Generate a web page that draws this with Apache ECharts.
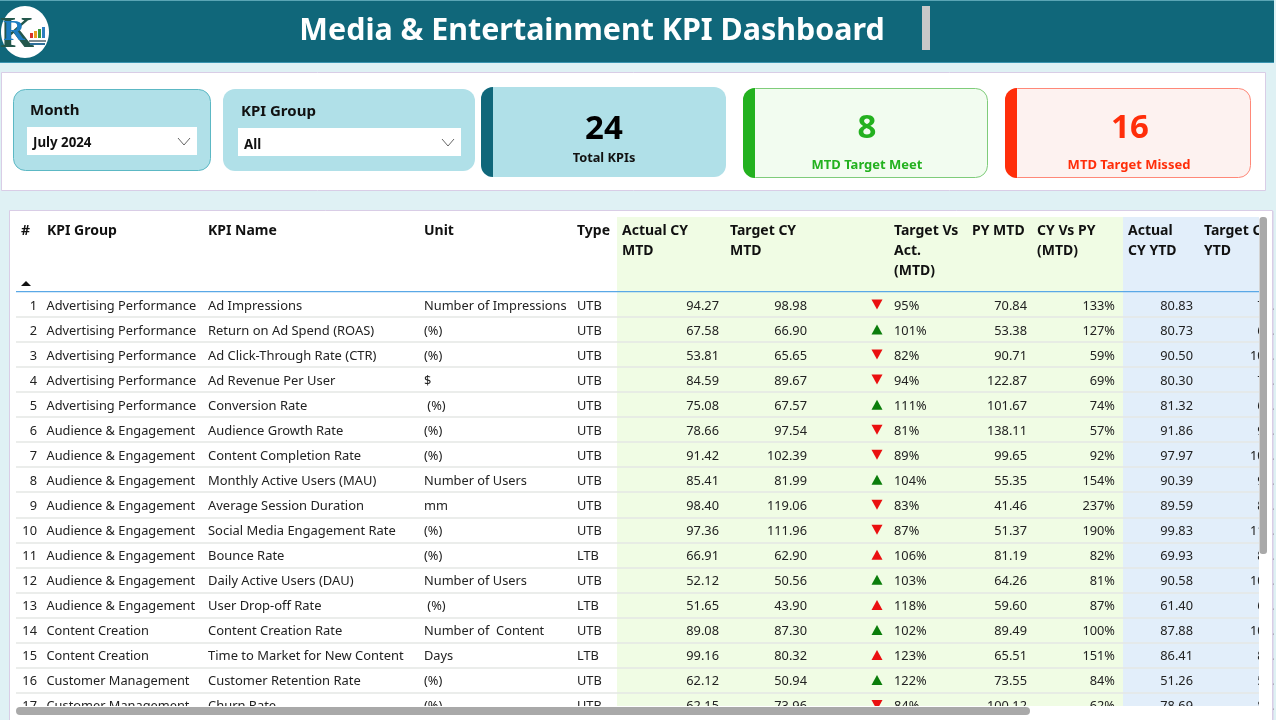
<!DOCTYPE html>
<html><head><meta charset="utf-8">
<style>html,body{margin:0;padding:0;background:#dff1f4}#c{width:1276px;height:720px}</style>
<script src="https://cdn.jsdelivr.net/npm/echarts@6/dist/echarts.min.js"></script>
</head><body><div id="c"></div>
<script>
const kpiGroups=["Advertising Performance","Advertising Performance","Advertising Performance","Advertising Performance","Advertising Performance","Audience & Engagement","Audience & Engagement","Audience & Engagement","Audience & Engagement","Audience & Engagement","Audience & Engagement","Audience & Engagement","Audience & Engagement","Content Creation","Content Creation","Customer Management","Customer Management"];
const kpiNames=["Ad Impressions","Return on Ad Spend (ROAS)","Ad Click-Through Rate (CTR)","Ad Revenue Per User","Conversion Rate","Audience Growth Rate","Content Completion Rate","Monthly Active Users (MAU)","Average Session Duration","Social Media Engagement Rate","Bounce Rate","Daily Active Users (DAU)","User Drop-off Rate","Content Creation Rate","Time to Market for New Content","Customer Retention Rate","Churn Rate"];
const units=["Number of Impressions","(%)","(%)","$"," (%)","(%)","(%)","Number of Users","mm","(%)","(%)","Number of Users"," (%)","Number of  Content","Days","(%)","(%)"];
const types=["UTB","UTB","UTB","UTB","UTB","UTB","UTB","UTB","UTB","UTB","LTB","UTB","LTB","UTB","LTB","UTB","UTB"];
const actualMTD=["94.27","67.58","53.81","84.59","75.08","78.66","91.42","85.41","98.40","97.36","66.91","52.12","51.65","89.08","99.16","62.12","62.15"];
const targetMTD=["98.98","66.90","65.65","89.67","67.57","97.54","102.39","81.99","119.06","111.96","62.90","50.56","43.90","87.30","80.32","50.94","73.96"];
const targetVsAct=["95%","101%","82%","94%","111%","81%","89%","104%","83%","87%","106%","103%","118%","102%","123%","122%","84%"];
const pyMTD=["70.84","53.38","90.71","122.87","101.67","138.11","99.65","55.35","41.46","51.37","81.19","64.26","59.60","89.49","65.51","73.55","100.12"];
const cyVsPy=["133%","127%","59%","69%","74%","57%","92%","154%","237%","190%","82%","81%","87%","100%","151%","84%","62%"];
const actualYTD=["80.83","80.73","90.50","80.30","81.32","91.86","97.97","90.39","89.59","99.83","69.93","90.58","61.40","87.88","86.41","51.26","78.69"];
const targetYTD=["75.40","68.20","104.10","74.60","66.30","93.50","101.20","92.10","85.70","110.40","82.60","108.30","64.80","101.50","83.90","58.20","86.10"];
const rowNumbers=kpiNames.map((_,i)=>String(i+1));

const headers=[["#",21],["KPI Group",47],["KPI Name",208],["Unit",424],["Type",577],
 ["Actual CY\nMTD",622],["Target CY\nMTD",730],["Target Vs\nAct.\n(MTD)",894],["PY MTD",972],["CY Vs PY\n(MTD)",1037],["Actual\nCY YTD",1128],["Target CY\nYTD",1204]];

const FONT='"Noto Sans","Open Sans",sans-serif';
const TXT='#222222';
const columns=[
 {v:rowNumbers,x:37,a:'right'},{v:kpiGroups,x:46.5,a:'left'},{v:kpiNames,x:208,a:'left',s:12.95},{v:units,x:424,a:'left'},{v:types,x:577,a:'left'},
 {v:actualMTD,x:719,a:'right'},{v:targetMTD,x:807,a:'right'},{v:targetVsAct,x:894,a:'left'},{v:pyMTD,x:1027,a:'right'},{v:cyVsPy,x:1115,a:'right'},{v:actualYTD,x:1193,a:'right'},{v:targetYTD,x:1290,a:'right'}];
const ROW_H=25.03, TOP=292;

function textSeries(col){
 return {type:'custom',coordinateSystem:'cartesian2d',clip:false,silent:true,z:5,
  data:col.v.map((t,i)=>[col.x,i,t]),
  renderItem(p,api){
   const c=api.coord([api.value(0),api.value(1)]);
   return {type:'text',style:{x:c[0],y:c[1]+1.5,text:col.v[p.dataIndex],textAlign:col.a,textVerticalAlign:'middle',font:(col.s||12.8)+'px '+FONT,fill:TXT}};
  }};
}
const triangles={type:'scatter',z:5,silent:true,clip:false,
 data:actualMTD.map((a,i)=>{
  const up=+a>=+targetMTD[i], good=types[i]==='UTB'?up:!up;
  return {value:[877,i],symbol:'triangle',symbolRotate:up?0:180,symbolSize:[11,10],itemStyle:{color:good?'#0b7d0b':'#ea1010',opacity:1}};
 })};

const g=[];
const rect=(x,y,w,h,fill,extra={})=>g.push({type:'rect',shape:{x,y,width:w,height:h,r:extra.r||0},style:{fill,stroke:extra.stroke||null,lineWidth:extra.lw||0},z:extra.z??-10,silent:true});
const text=(t,x,y,size,color,align='left',weight='bold',z=-5)=>g.push({type:'text',z,silent:true,style:{x,y,text:t,font:`${weight} ${size}px ${FONT}`,fill:color,textAlign:align,textVerticalAlign:'middle'}});
const chevron=(x,y)=>g.push({type:'polyline',z:-5,silent:true,shape:{points:[[x-6,y-4],[x,y+3],[x+6,y-4]]},style:{fill:null,stroke:'#666',lineWidth:1}});

// header
rect(0,0,1274,63,'#10677a');
rect(0,0,1274,1,'#5aa5b5',{z:-9});
rect(0,62,1274,1,'#3a94b0',{z:-9});
text('Media & Entertainment KPI Dashboard',592,31,30.4,'#ffffff','center');
rect(922,6,8,44,'#c8c8c8');
// logo
g.push({type:'ellipse',z:-8,silent:true,shape:{cx:25,cy:32,rx:24,ry:26},style:{fill:'#ffffff'}});
g.push({type:'text',z:-6,silent:true,style:{x:17,y:36,text:'K',font:'bold 44px "Liberation Serif",serif',fill:'#23574c',textAlign:'center',textVerticalAlign:'middle'}});
g.push({type:'text',z:-6,silent:true,style:{x:14,y:32,text:'R',font:'bold 30px "Liberation Serif",serif',fill:'#1c7cc0',textAlign:'center',textVerticalAlign:'middle'}});
[[30,33,3,5,'#d8342a'],[34,31,3,7,'#e8a020'],[38,29,3,9,'#3a9a3a'],[42,27,3,11,'#2e7fc0']].forEach(b=>rect(b[0],b[1],b[2],b[3],b[4],{z:-6}));
rect(29,40,17,2,'#7a8a90',{z:-6});
rect(30,43,15,2,'#2e6f9a',{z:-6});
// filter panel
rect(1.5,72.5,1264,118,'#ffffff',{stroke:'#d9cde6',lw:1});
rect(13.5,89.5,197,81,'#b0e0e8',{r:12,stroke:'#5cb8c4',lw:1,z:-9});
text('Month',30,111,15,'#111');
rect(27,127,170,28,'#ffffff',{z:-8});
text('July 2024',33,143,13.3,'#111');
chevron(184,142);
rect(223,89,252,82,'#b0e0e8',{r:12,z:-9});
text('KPI Group',241,112,15,'#111');
rect(238,128,223,28,'#ffffff',{z:-8});
text('All',244,145,13.3,'#111');
chevron(448,143);
// KPI cards
rect(481,87,245,90,'#b0e0e8',{r:12,z:-9});
rect(481,87,12,90,'#10677a',{r:[12,0,0,12],z:-8});
text('24',604,130,33,'#000','center');
text('Total KPIs',604,158,12.8,'#111','center');
rect(743.5,88.5,244,89,'#f2fcf0',{r:12,stroke:'#7fcc7a',lw:1,z:-9});
rect(743,88,12,90,'#23b11f',{r:[12,0,0,12],z:-8});
text('8',867,129,33,'#23b11f','center');
text('MTD Target Meet',867,165,13,'#23b11f','center');
rect(1005.5,88.5,245,89,'#fdf2f0',{r:12,stroke:'#ff8878',lw:1,z:-9});
rect(1005,88,12,90,'#ff2e0a',{r:[12,0,0,12],z:-8});
text('16',1130,129,33,'#ff2e0a','center');
text('MTD Target Missed',1129,165,13,'#ff2e0a','center');
// table panel
rect(9.5,210.5,1263,512,'#ffffff',{stroke:'#d9cde6',lw:1,z:-12});
rect(617,217,506,489,'#f0fce4',{z:-10});
rect(1123,217,136,489,'#e2eefa',{z:-10});
headers.forEach(h=>h[0].split('\n').forEach((l,i)=>text(l,h[1],231+i*20,14,'#111','left','bold',-4)));
g.push({type:'polygon',z:-4,silent:true,shape:{points:[[21,286],[26,281],[31,286]]},style:{fill:'#111'}});
rect(16,291,1243,1.2,'#5aa8e6',{z:70});
// clipping masks and scrollbars
rect(1259,211,13,511,'#ffffff',{z:50});
rect(10,706,1262,14,'#ffffff',{z:50});
rect(1259.5,217,7.5,337,'#a9a9a9',{r:3,z:60});
rect(16,707,1014,8,'#a9a9a9',{r:4,z:60});
rect(1273.5,205,3,515,'#dff1f4',{z:51});
rect(9,211,1,510,'#d9cde6',{z:60});
rect(1272.5,211,1,510,'#d9cde6',{z:60});

const chart=echarts.init(document.getElementById('c'),null,{renderer:'canvas'});
chart.setOption({
 animation:false,backgroundColor:'#dff1f4',
 grid:{left:16,width:1243,top:TOP,height:ROW_H*rowNumbers.length,containLabel:false},
 xAxis:{type:'value',min:16,max:1259,axisLine:{show:false},axisTick:{show:false},axisLabel:{show:false},splitLine:{show:false}},
 yAxis:{type:'category',inverse:true,data:rowNumbers,axisLine:{show:false},axisTick:{show:false},axisLabel:{show:false},
  splitLine:{show:true,showMinLine:false,interval:0,lineStyle:{color:'#e4e7e4',width:1.5}}},
 graphic:{elements:g},
 series:columns.map(textSeries).concat([triangles])
});
</script></body></html>
